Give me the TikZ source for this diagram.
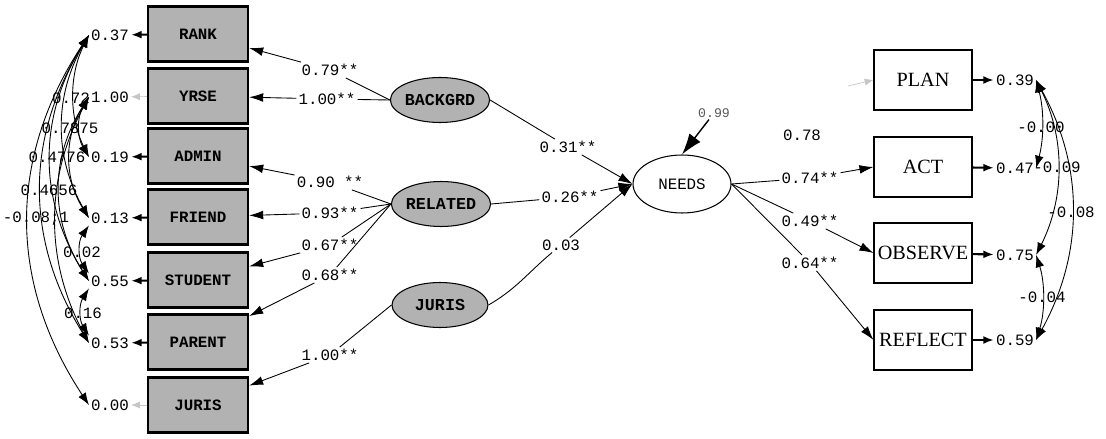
\documentclass[tikz,border=0pt]{standalone}
\usepackage{fontspec}
\newfontfamily\numfont{Liberation Mono}
\newfontfamily\boxfont{Liberation Serif}
\usetikzlibrary{arrows.meta}
\usetikzlibrary{shapes.geometric}

\begin{document}
\begin{tikzpicture}[x=0.02cm,y=-0.02cm,
	obs/.style={draw,line width=1.3pt,fill=gray!60,minimum width=2cm,minimum height=1.1cm,inner sep=0pt,font=\numfont\bfseries\fontsize{9}{10}\selectfont},
	ind/.style={draw,line width=0.6pt,fill=white,minimum width=1.96cm,minimum height=1.2cm,inner sep=0pt,font=\boxfont\fontsize{11.5}{12}\selectfont},
	lat/.style={ellipse,draw,line width=0.6pt,fill=gray!60,minimum width=1.92cm,minimum height=0.9cm,inner sep=0pt,font=\numfont\bfseries\fontsize{9.5}{10}\selectfont},
	dep/.style={ellipse,draw,line width=0.6pt,fill=white,minimum width=1.96cm,minimum height=1.16cm,inner sep=0pt,font=\numfont\fontsize{9}{10}\selectfont},
	num/.style={inner sep=1pt,font=\numfont\fontsize{9}{10}\selectfont},
	coef/.style={num,fill=white},
	load/.style={-{Latex[length=8pt,width=5pt]},line width=0.5pt},
	err/.style={{Latex[length=6pt,width=4.5pt]}-,line width=1.2pt},
	fixd/.style={{Latex[length=5pt,width=4pt]}-,line width=0.4pt,gray!45},
	cov/.style={{Latex[length=7pt,width=5pt]}-{Latex[length=7pt,width=5pt]},line width=0.5pt}]

\useasboundingbox (0,0) rectangle (1106,439);

\node[obs] (rank)    at (198,34)  {RANK};
\node[obs] (yrse)    at (198,96)  {YRSE};
\node[obs] (admin)   at (198,156) {ADMIN};
\node[obs] (friend)  at (198,217) {FRIEND};
\node[obs] (student) at (198,280) {STUDENT};
\node[obs] (parent)  at (198,342) {PARENT};
\node[obs] (juris)   at (198,405) {JURIS};

\node[num] (erank)    at (110,35)  {0.37};
\node[num] (eyrse)    at (110,97)  {1.00};
\node[num] (eadmin)   at (110,157) {0.19};
\node[num] (efriend)  at (110,218) {0.13};
\node[num] (estudent) at (110,281) {0.55};
\node[num] (eparent)  at (110,343) {0.53};
\node[num] (ejuris)   at (110,405) {0.00};

\node[lat] (backgrd) at (440,100) {BACKGRD};
\node[lat] (related) at (441,204) {RELATED};
\node[lat] (jurisl)  at (440,305) {JURIS};
\node[dep] (needs)   at (682,184) {NEEDS};

\node[ind] (plan)    at (923,80)  {PLAN};
\node[ind] (act)     at (923,167) {ACT};
\node[ind] (observe) at (923,253) {OBSERVE};
\node[ind] (reflect) at (923,340) {REFLECT};

\node[num] (eplan)    at (1015,80)  {0.39};
\node[num] (eact)     at (1015,168) {0.47};
\node[num] (eobserve) at (1015,255) {0.75};
\node[num] (ereflect) at (1015,340) {0.59};

\node[coef] (l79)  at (330,70)  {0.79**};
\node[coef] (l100) at (327,99)  {1.00**};
\node[coef] (l90)  at (330,182) {0.90 **};
\node[coef] (l93)  at (330,213) {0.93**};
\node[coef] (l67)  at (330,245) {0.67**};
\node[coef] (l68)  at (330,275) {0.68**};
\node[coef] (l10j) at (330,355) {1.00**};
\node[coef] (l31)  at (568,147) {0.31**};
\node[coef] (l26)  at (570,197) {0.26**};
\node[coef] (l03)  at (561,245) {0.03};
\node[coef] (l74)  at (810,178) {0.74**};
\node[coef] (l49)  at (810,221) {0.49**};
\node[coef] (l64)  at (810,263) {0.64**};
\node[num] (l78)   at (802,135) {0.78};
\node[num,font=\numfont\fontsize{7.5}{8}\selectfont,text=gray!70!black] (e99) at (714,113) {0.99};
\coordinate (fp) at (848,86);

\draw[load] (backgrd.west) -- (l79) -- (rank);
\draw[load] (backgrd.west) -- (l100) -- (yrse);
\draw[load] (related.west) -- (l90) -- (admin);
\draw[load] (related.west) -- (l93) -- (friend);
\draw[load] (related.west) -- (l67) -- (student);
\draw[load] (related.west) -- (l68) -- (parent);
\draw[load] (jurisl.west) -- (l10j) -- (juris);
\draw[load] (backgrd.east) -- (l31) -- (needs.west);
\draw[load] (related.east) -- (l26) -- (needs.west);
\draw[load] (jurisl.east) to[out=30,in=220] (l03) -- (needs.west);
\draw[load] (needs.east) -- (l74) -- (act.west);
\draw[load] (needs.east) -- (l49) -- (observe.west);
\draw[load] (needs.east) -- (l64) -- (reflect.west);
\draw[-{Latex[length=12pt,width=8pt]},line width=0.8pt] (e99) -- (needs.north);
\draw[-{Latex[length=5pt,width=4pt]},line width=0.4pt,gray!45] (fp) -- (plan.west);

\draw[err] (erank) -- (rank); \draw[fixd] (eyrse) -- (yrse); \draw[err] (eadmin) -- (admin);
\draw[err] (efriend) -- (friend); \draw[err] (estudent) -- (student); \draw[err] (eparent) -- (parent);
\draw[fixd] (ejuris) -- (juris);
\draw[err] (eplan) -- (plan); \draw[err] (eact) -- (act); \draw[err] (eobserve) -- (observe); \draw[err] (ereflect) -- (reflect);

\draw[cov] (erank.west) .. controls +(-20,40) and +(-20,-40) .. (eadmin.west);
\draw[cov] (erank.west) .. controls +(-35,61) and +(-35,-61) .. (efriend.west);
\draw[cov] (erank.west) .. controls +(-51,82) and +(-51,-82) .. (estudent.west);
\draw[cov] (erank.west) .. controls +(-64,103) and +(-64,-103) .. (eparent.west);
\draw[cov] (erank.west) .. controls +(-81,123) and +(-81,-123) .. (ejuris.west);
\draw[cov] (eyrse.west) .. controls +(-12,20) and +(-12,-20) .. (eadmin.west);
\draw[cov] (eyrse.west) .. controls +(-25,40) and +(-25,-40) .. (efriend.west);
\draw[cov] (eyrse.west) .. controls +(-39,61) and +(-39,-61) .. (estudent.west);
\draw[cov] (eyrse.west) .. controls +(-44,82) and +(-44,-82) .. (eparent.west);
\draw[cov] (efriend.south west) .. controls +(-11,16) and +(-11,-16) .. (estudent.north west);
\draw[cov] (estudent.south west) .. controls +(-10,16) and +(-10,-16) .. (eparent.north west);
\node[num] (c72) at (71,98)  {0.72};
\node[num] (c78) at (70,128) {0.7875};
\node[num] (c47) at (57,157) {0.4776};
\node[num] (c46) at (49,190) {0.4656};
\node[num] (c08) at (36,219) {-0.08;1};
\node[num] (c02) at (82,252) {0.02};
\node[num] (c16) at (83,313) {0.16};

\draw[cov] (eplan.east) .. controls +(8,30) and +(8,-30) .. (eact.east);
\draw[cov] (eplan.east) .. controls +(29,58) and +(29,-58) .. (eobserve.east);
\draw[cov] (eplan.east) .. controls +(48,87) and +(48,-87) .. (ereflect.east);
\draw[cov] (eobserve.east) .. controls +(9,28) and +(9,-28) .. (ereflect.east);
\node[num] (c00) at (1041,127) {-0.00};
\node[num] (c09) at (1057,167) {-0.09};
\node[num] (c08r) at (1071,212) {-0.08};
\node[num] (c04) at (1042,297) {-0.04};

\end{tikzpicture}
\end{document}
